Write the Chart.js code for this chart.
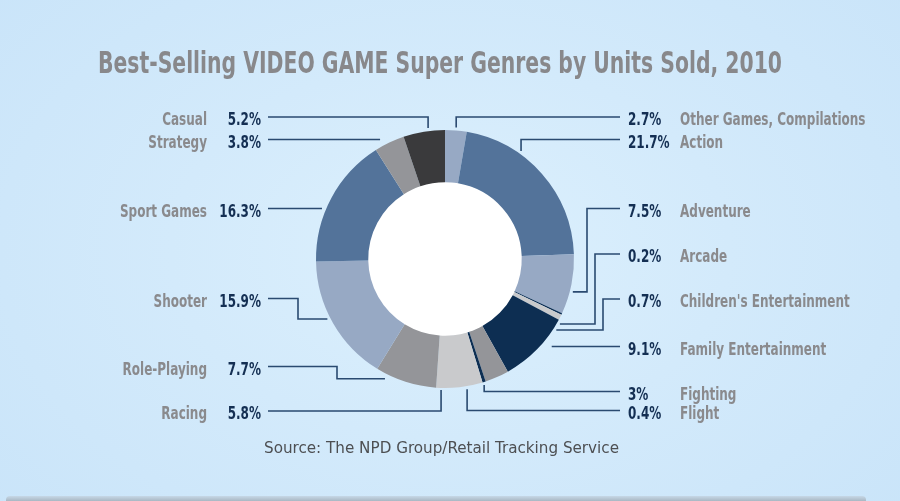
<!DOCTYPE html>
<html>
<head>
<meta charset="utf-8">
<script src="https://cdn.jsdelivr.net/npm/chart.js@4.4.1/dist/chart.umd.min.js"></script>
<style>
  html, body { margin: 0; padding: 0; background: #cfe7fa; }
  #wrap { position: relative; width: 900px; height: 501px; overflow: hidden;
    background: radial-gradient(ellipse 620px 420px at 450px 250px, #dcf0fd 0%, #d3eafb 45%, #c9e4f9 100%); }
  #shadow { position: absolute; left: 6px; right: 34px; top: 496px; height: 5px;
    background: linear-gradient(#c6d8e7, #a9b7c3); border-radius: 4px 4px 0 0; }
  canvas { position: absolute; left: 0; top: 0; }
</style>
</head>
<body>
<div id="wrap">
  <div id="shadow"></div>
  <canvas id="c" width="900" height="501"></canvas>
</div>
<script>
// ---- data ----
const titleText = 'Best-Selling VIDEO GAME Super Genres by Units Sold, 2010';
const sourceText = 'Source: The NPD Group/Retail Tracking Service';
const categories = ['Other Games, Compilations', 'Action', 'Adventure', 'Arcade',
  "Children's Entertainment", 'Family Entertainment', 'Fighting', 'Flight', 'Racing',
  'Role-Playing', 'Shooter', 'Sport Games', 'Strategy', 'Casual'];
const shares = [2.7, 21.7, 7.5, 0.2, 0.7, 9.1, 3, 0.4, 5.8, 7.7, 15.9, 16.3, 3.8, 5.2];

// ---- styles ----
const sliceColors = ['#97a9c4', '#53739a', '#97a9c4', '#0d2e52', '#c9cacc', '#0d2e52',
  '#949599', '#0d2e52', '#c9cacc', '#949599', '#97a9c4', '#53739a', '#949599', '#3a3a3c'];

// ---- label layout ----
const labelSide = ['R', 'R', 'R', 'R', 'R', 'R', 'R', 'R', 'L', 'L', 'L', 'L', 'L', 'L'];
const labelLineY = [117, 139.5, 208.5, 254, 299, 346.5, 391.5, 410.5, 411, 366.5, 298.5, 208.5, 139.5, 117];
const leaderType = ['v', 'v', 'e', 'e', 'e', 'h', 'v', 'v', 'v', 'e', 'e', 'h', 'h', 'v'];
const leaderShiftDeg = [0, -13.6, 3.1, 4.3, 5.7, 0, 6.5, 8, 8.2, 8.8, 2.7, 0, 0, 2];
const leaderGap = [3, 3, 3, 3, 3, 9, 3, 3, 2, 5, 3, 4, 7, 3];
const kneeX = [0, 0, 587, 595, 603, 0, 0, 0, 0, 337, 298, 0, 0, 0];

const FONT = '"Liberation Sans Narrow", "DejaVu Sans Condensed", "Arial Narrow", sans-serif';
const LABEL_SQUEEZE = 0.785;

const bgAndHole = {
  id: 'hole',
  beforeDatasetsDraw(chart) {
    const arc = chart.getDatasetMeta(0).data[0];
    if (!arc) return;
    const ctx = chart.ctx;
    ctx.save();
    ctx.beginPath();
    ctx.arc(arc.x, arc.y, arc.innerRadius + 0.5, 0, Math.PI * 2);
    ctx.fillStyle = '#ffffff';
    ctx.fill();
    ctx.restore();
  }
};

function fitText(ctx, text, x, y, width, font, color) {
  ctx.save();
  ctx.font = font;
  ctx.fillStyle = color;
  ctx.textAlign = 'left';
  ctx.textBaseline = 'alphabetic';
  const w = ctx.measureText(text).width;
  ctx.translate(x, y);
  ctx.scale(width / w, 1);
  ctx.fillText(text, 0, 0);
  ctx.restore();
}

function squeezeText(ctx, text, x, y, align, color) {
  ctx.save();
  ctx.font = 'bold 17px ' + FONT;
  ctx.fillStyle = color;
  ctx.textAlign = align;
  ctx.textBaseline = 'alphabetic';
  ctx.translate(x, y);
  ctx.scale(LABEL_SQUEEZE, 1);
  ctx.fillText(text, 0, 0);
  ctx.restore();
}

const labelsPlugin = {
  id: 'leaderLabels',
  afterDatasetsDraw(chart) {
    const ctx = chart.ctx;
    const meta = chart.getDatasetMeta(0);
    // title & source
    fitText(ctx, titleText, 98, 72.5, 684, 'bold 31px ' + FONT, '#88888b');
    fitText(ctx, sourceText, 264, 453, 355, '16px ' + FONT, '#4d4f52');

    meta.data.forEach((arc, i) => {
      const cx = arc.x, cy = arc.y, R = arc.outerRadius;
      const r = R + leaderGap[i];
      const mid = (arc.startAngle + arc.endAngle) / 2 + leaderShiftDeg[i] * Math.PI / 180;
      const ax = cx + r * Math.cos(mid), ay = cy + r * Math.sin(mid);
      const ly = labelLineY[i];
      const right = labelSide[i] === 'R';
      const lx = right ? 620 : 268;
      const pts = [];
      if (leaderType[i] === 'v') {
        pts.push([ax, ay], [ax, ly], [lx, ly]);
      } else if (leaderType[i] === 'e') {
        pts.push([ax, ay], [kneeX[i], ay], [kneeX[i], ly], [lx, ly]);
      } else {
        const dy = ly - cy;
        const dx = Math.sqrt(Math.max(r * r - dy * dy, 0));
        pts.push([right ? cx + dx : cx - dx, ly], [lx, ly]);
      }
      ctx.save();
      ctx.strokeStyle = '#2a4a70';
      ctx.lineWidth = 1.6;
      ctx.lineJoin = 'miter';
      ctx.beginPath();
      pts.forEach((p, k) => k ? ctx.lineTo(p[0], p[1]) : ctx.moveTo(p[0], p[1]));
      ctx.stroke();
      ctx.restore();

      const pct = shares[i] + '%';
      const base = ly + 8;
      if (right) {
        squeezeText(ctx, pct, 628, base, 'left', '#142f53');
        squeezeText(ctx, categories[i], 680, base, 'left', '#8a8a8d');
      } else {
        squeezeText(ctx, pct, 261, base, 'right', '#142f53');
        squeezeText(ctx, categories[i], 207, base, 'right', '#8a8a8d');
      }
    });
  }
};

new Chart(document.getElementById('c'), {
  type: 'doughnut',
  data: {
    labels: categories,
    datasets: [{
      data: shares,
      backgroundColor: sliceColors,
      borderWidth: 0,
      hoverOffset: 0,
      offset: 0
    }]
  },
  options: {
    responsive: false,
    animation: false,
    events: [],
    cutout: '59.5%',
    rotation: 0,
    layout: { padding: { left: 316, right: 326, top: 130, bottom: 113 } },
    plugins: { legend: { display: false }, tooltip: { enabled: false }, title: { display: false } }
  },
  plugins: [bgAndHole, labelsPlugin]
});
</script>
</body>
</html>
